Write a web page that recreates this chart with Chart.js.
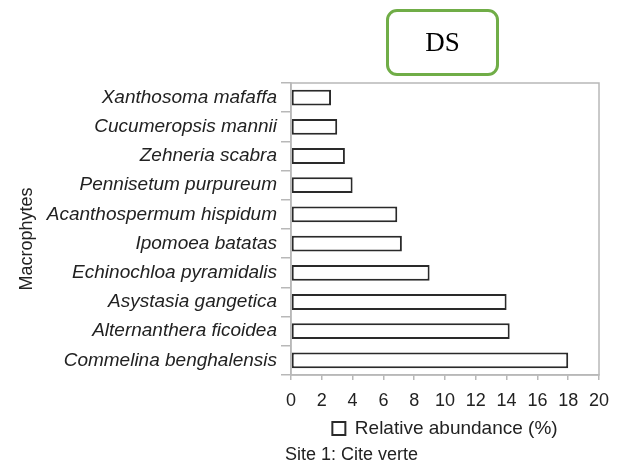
<!DOCTYPE html>
<html lang="en">
<head>
    <meta charset="UTF-8">
    <title>DS - Site 1</title>
    <script src="https://cdn.jsdelivr.net/npm/chart.js"></script>
    <style>
        html, body {
            margin: 0;
            padding: 0;
            background: #fff;
        }
        .wrap {
            position: relative;
            width: 622px;
            height: 468px;
        }
        .tag {
            position: absolute;
            left: 386px;
            top: 9px;
            width: 107px;
            height: 61px;
            border: 3px solid #70ad47;
            border-radius: 11px;
            font-family: 'Liberation Serif', serif;
            font-size: 27px;
            color: #000;
            text-align: center;
            line-height: 61px;
        }
        .site {
            position: absolute;
            left: 285px;
            top: 444px;
            font-family: 'Liberation Sans', Arial, sans-serif;
            font-size: 18px;
            color: #222;
        }
    </style>
</head>
<body>
<div class="wrap">
    <canvas id="chart" width="622" height="468"></canvas>
    <div class="tag">DS</div>
    <div class="site">Site 1: Cite verte</div>
</div>
<script>
    const species = [
        'Xanthosoma mafaffa',
        'Cucumeropsis mannii',
        'Zehneria scabra',
        'Pennisetum purpureum',
        'Acanthospermum hispidum',
        'Ipomoea batatas',
        'Echinochloa pyramidalis',
        'Asystasia gangetica',
        'Alternanthera ficoidea',
        'Commelina benghalensis'
    ];
    const abundance = [2.6, 3.0, 3.5, 4.0, 6.9, 7.2, 9.0, 14.0, 14.2, 18.0];
    const xTicks = [0, 2, 4, 6, 8, 10, 12, 14, 16, 18, 20];

    const axisGray = '#b8b8b8';
    const textColor = '#222';

    // gray frame around the plot area (top and right sides)
    const frame = {
        id: 'frame',
        afterDraw(chart) {
            const a = chart.chartArea;
            const ctx = chart.ctx;
            ctx.save();
            ctx.strokeStyle = axisGray;
            ctx.lineWidth = 1.5;
            ctx.strokeRect(a.left, a.top, a.right - a.left, a.bottom - a.top);
            ctx.restore();
        }
    };

    new Chart(document.getElementById('chart'), {
        type: 'bar',
        data: {
            labels: species,
            datasets: [{
                label: 'Relative abundance (%)',
                data: abundance,
                backgroundColor: '#fff',
                borderColor: '#2a2a2a',
                borderWidth: 2,
                borderSkipped: false,
                barPercentage: 0.54,
                categoryPercentage: 1
            }]
        },
        options: {
            indexAxis: 'y',
            responsive: false,
            animation: false,
            layout: {
                padding: { left: 14, top: 83, right: 23, bottom: 20 }
            },
            scales: {
                x: {
                    min: 0,
                    max: 20,
                    afterBuildTicks(scale) {
                        scale.ticks = xTicks.map(v => ({ value: v }));
                    },
                    afterFit(scale) {
                        scale.height = 38;
                    },
                    border: { color: axisGray, width: 1.5 },
                    grid: {
                        drawOnChartArea: false,
                        color: axisGray,
                        lineWidth: 1.5,
                        tickLength: 5
                    },
                    ticks: {
                        color: textColor,
                        padding: 10,
                        maxRotation: 0,
                        autoSkip: false,
                        font: { family: 'Liberation Sans', size: 18 }
                    }
                },
                y: {
                    afterFit(scale) {
                        scale.width = 277;
                    },
                    border: { color: axisGray, width: 1.5 },
                    grid: {
                        drawOnChartArea: false,
                        offset: true,
                        color: axisGray,
                        lineWidth: 1.5,
                        tickLength: 10
                    },
                    ticks: {
                        color: textColor,
                        padding: 4,
                        autoSkip: false,
                        font: { family: 'Liberation Sans', size: 19, style: 'italic' }
                    },
                    title: {
                        display: true,
                        text: 'Macrophytes    ',
                        color: textColor,
                        padding: 2,
                        font: { family: 'Liberation Sans', size: 18 }
                    }
                }
            },
            plugins: {
                legend: {
                    position: 'bottom',
                    fullSize: false,
                    labels: {
                        color: textColor,
                        boxWidth: 13,
                        boxHeight: 13,
                        padding: 6,
                        font: { family: 'Liberation Sans', size: 19 }
                    }
                },
                tooltip: { enabled: false }
            }
        },
        plugins: [frame]
    });
</script>
</body>
</html>
